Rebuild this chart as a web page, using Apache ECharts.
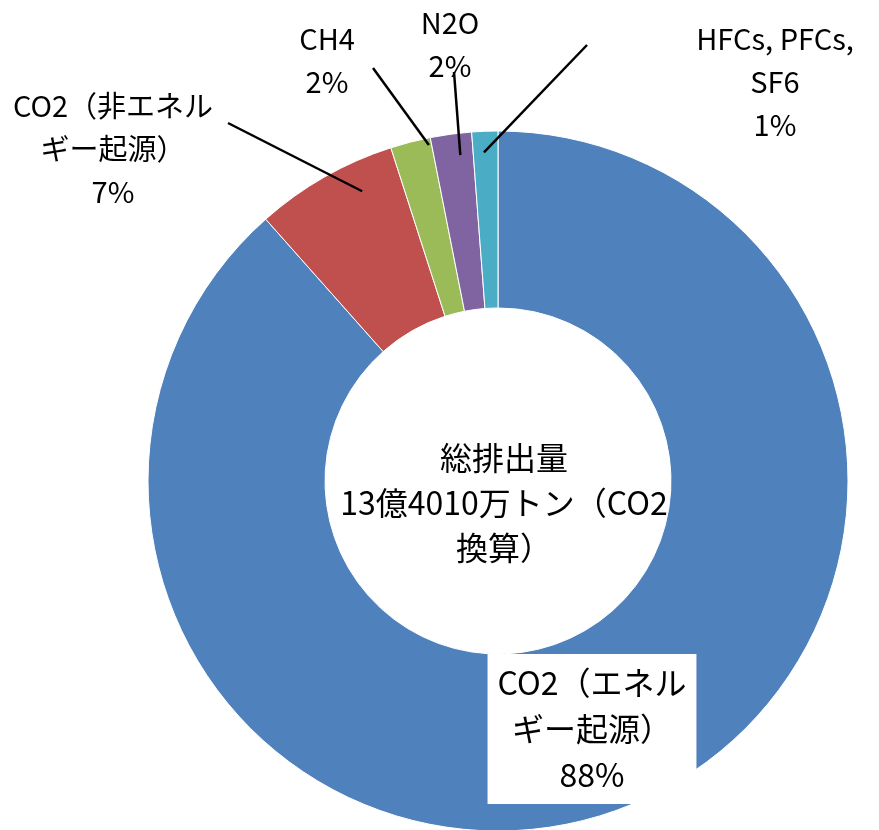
<!DOCTYPE html>
<html>
<head>
<meta charset="utf-8">
<script src="https://cdn.jsdelivr.net/npm/echarts@6/dist/echarts.min.js"></script>
<style>
html,body{margin:0;padding:0;background:#fff;}
#chart{width:879px;height:830px;}
</style>
</head>
<body>
<div id="chart"></div>
<script>
// ---- data ----
const categories = [
  "CO2（エネル\nギー起源）",
  "CO2（非エネル\nギー起源）",
  "CH4",
  "N2O",
  "HFCs, PFCs,\nSF6"
];
const shares = [88.45, 6.6, 1.85, 1.9, 1.2];
const centerText = ["総排出量", "13億4010万トン（CO2", "換算）"];

// ---- style ----
const colors = ["#4F81BD", "#C0504D", "#9BBB59", "#8064A2", "#4BACC6"];
const FONT = '"Noto Sans CJK JP", "Noto Sans", sans-serif';
const CENTER = [498, 481];
const labelPos = [[592, 729], [113, 149], [327, 60], [450, 44], [775, 82]];
const lineEnd = [null, [228, 123], [373, 68], [454, 72], [587, 45]];
const lineStartRadius = [0, 320, 343, 328, 329];
const lineStartTurn = [0, 0.08, 0.05, 0.02, -0.005]; // radians toward 12 o'clock
const labelFont = [32, 29, 29, 29, 29];

const chart = echarts.init(document.getElementById('chart'), null, {renderer: 'canvas'});

const data = categories.map((c, i) => ({
  name: c,
  value: shares[i],
  itemStyle: {color: colors[i]},
  label: i === 0 ? {
    backgroundColor: '#fff',
    padding: [6, 10, 6, 10],
    fontSize: labelFont[i],
    lineHeight: 46
  } : {fontSize: labelFont[i], lineHeight: 43}
}));

// transparent copy of the ring, only used to draw the leader lines on top
const guideData = categories.map((c, i) => ({
  name: c,
  value: shares[i],
  label: {show: i !== 0},
  labelLine: {show: i !== 0}
}));

chart.setOption({
  animation: false,
  backgroundColor: '#fff',
  graphic: [{
    type: 'text',
    x: 504,
    y: 503,
    style: {
      text: centerText.join('\n'),
      font: '32px ' + FONT,
      lineHeight: 45,
      fill: '#000',
      align: 'center',
      verticalAlign: 'middle'
    },
    z: 10
  }],
  series: [{
    type: 'pie',
    z: 2,
    center: CENTER,
    radius: [173, 350],
    startAngle: 90,
    clockwise: true,
    avoidLabelOverlap: false,
    data: data,
    itemStyle: {borderColor: '#fff', borderWidth: 1},
    label: {
      show: true,
      position: 'outside',
      color: '#000',
      fontFamily: FONT,
      fontSize: 29,
      formatter: p => p.name + '\n' + Math.round(p.percent) + '%'
    },
    labelLine: {show: false},
    labelLayout: function (params) {
      const i = params.dataIndex;
      return {
        x: labelPos[i][0],
        y: labelPos[i][1],
        align: 'center',
        verticalAlign: 'middle',
        hideOverlap: false
      };
    }
  }, {
    type: 'pie',
    z: 5,
    silent: true,
    center: CENTER,
    radius: [173, 350],
    startAngle: 90,
    clockwise: true,
    avoidLabelOverlap: false,
    data: guideData,
    itemStyle: {color: 'rgba(0,0,0,0)', borderWidth: 0},
    label: {
      position: 'outside',
      formatter: ' ',
      fontSize: 1,
      color: 'rgba(0,0,0,0)'
    },
    labelLine: {
      length: 10,
      length2: 0,
      lineStyle: {color: '#000', width: 2.5}
    },
    labelLayout: function (params) {
      const i = params.dataIndex;
      if (!lineEnd[i]) return {};
      const res = {x: lineEnd[i][0], y: lineEnd[i][1], hideOverlap: false};
      if (params.labelLinePoints) {
        const p0 = params.labelLinePoints[0];
        let a = Math.atan2(p0[0] - CENTER[0], -(p0[1] - CENTER[1]));
        a += lineStartTurn[i];
        const r = lineStartRadius[i];
        const s = [CENTER[0] + r * Math.sin(a), CENTER[1] - r * Math.cos(a)];
        res.labelLinePoints = [s, lineEnd[i], lineEnd[i]];
      }
      return res;
    }
  }]
});
</script>
</body>
</html>
